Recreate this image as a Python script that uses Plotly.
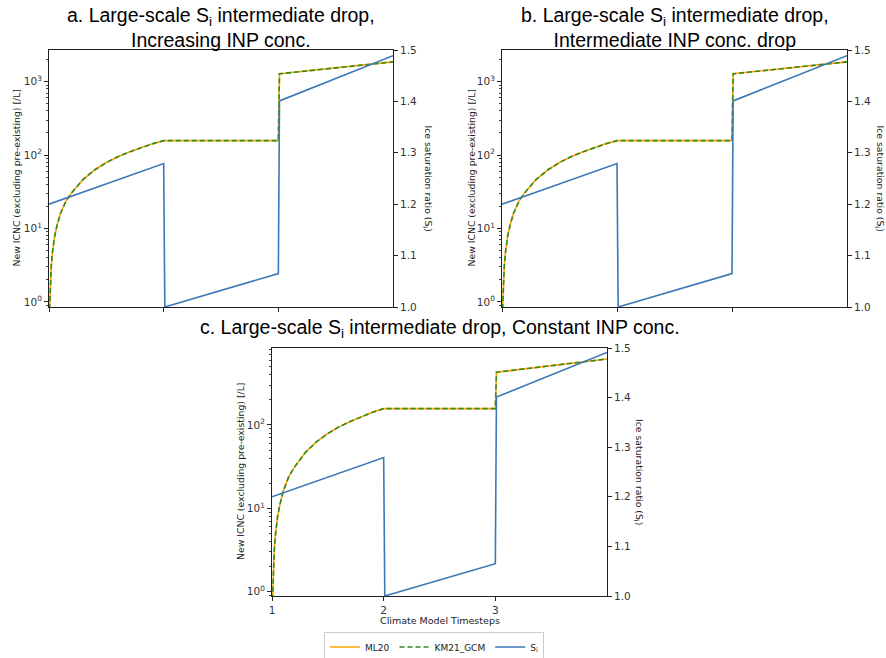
import plotly.graph_objects as go
import math

# ---------------- data ----------------
# sub-step positions along the climate-model timesteps for the ICNC curves
t_icnc = [1.005, 1.01, 1.02, 1.03, 1.05, 1.07, 1.10, 1.15, 1.20, 1.30, 1.40,
          1.50, 1.60, 1.70, 1.80, 1.90, 2.00, 3.00, 3.01, 4.00]
# panel a: Increasing INP conc.
ml20_a = [0.8, 1.6, 3.1, 4.7, 7.9, 11, 16, 24, 31, 47, 63, 79, 95, 110, 126, 142, 157, 157, 1280, 1860]
km21_a = [0.8, 1.6, 3.1, 4.7, 7.9, 11, 16, 24, 31, 47, 63, 79, 95, 110, 126, 142, 157, 157, 1280, 1860]
# panel b: Intermediate INP conc. drop
ml20_b = [0.8, 1.6, 3.1, 4.7, 7.9, 11, 16, 24, 31, 47, 63, 79, 95, 110, 126, 142, 157, 157, 1280, 1860]
km21_b = [0.8, 1.6, 3.1, 4.7, 7.9, 11, 16, 24, 31, 47, 63, 79, 95, 110, 126, 142, 157, 157, 1280, 1860]
# panel c: Constant INP conc.
ml20_c = [0.8, 1.6, 3.1, 4.7, 7.9, 11, 16, 24, 31, 47, 63, 79, 95, 110, 126, 142, 157, 157, 430, 620]
km21_c = [0.8, 1.6, 3.1, 4.7, 7.9, 11, 16, 24, 31, 47, 63, 79, 95, 110, 126, 142, 157, 157, 430, 620]

# ice saturation ratio S_i
t_si = [1.0, 2.0, 2.01, 3.0, 3.01, 4.0]
si_a = [1.200, 1.279, 1.000, 1.065, 1.401, 1.489]
si_b = [1.200, 1.279, 1.000, 1.065, 1.401, 1.489]
si_c = [1.200, 1.279, 1.000, 1.065, 1.401, 1.491]

x_ticks = [1, 2, 3]
icnc_ticks = [1, 10, 100, 1000]
icnc_ticktext = ["10<sup>0</sup>", "10<sup>1</sup>", "10<sup>2</sup>", "10<sup>3</sup>"]
si_ticks = [1.0, 1.1, 1.2, 1.3, 1.4, 1.5]

titles = [
    "a. Large-scale S<sub>i</sub> intermediate drop,<br>Increasing INP conc.",
    "b. Large-scale S<sub>i</sub> intermediate drop,<br>Intermediate INP conc. drop",
    "c. Large-scale S<sub>i</sub> intermediate drop, Constant INP conc.",
]
left_title = "New ICNC (excluding pre-existing) [/L]"
right_title = "Ice saturation ratio (S<sub>i</sub>)"
x_title = "Climate Model Timesteps"

# ---------------- layout constants ----------------
W, H = 886, 658
ORANGE = "#ffa500"
GREEN = "#2e8b22"
BLUE = "#3b78b8"
TICKFONT = dict(family="DejaVu Sans", size=10.5, color="#333")
LABFONT = dict(family="DejaVu Sans", size=9.3, color="#222")
TITLEFONT = dict(family="Liberation Sans, Arial", size=19.5, color="black")


def px(p):
    return p / W


def py(p):
    return 1 - p / H


# pixel boxes in screen coordinates (left, right, top, bottom)
boxes = [(49, 393, 50, 307), (502, 847, 50, 307), (272, 607, 348, 596)]
yranges = [(0.85, 2700), (0.85, 2700), (0.885, 840)]
panels = [(ml20_a, km21_a, si_a), (ml20_b, km21_b, si_b), (ml20_c, km21_c, si_c)]
left_title_x = [16, 471, 240]
right_title_x = [427, 879, 639]

minor_vals = [m * 10 ** e for e in range(-1, 4) for m in range(2, 10)]

fig = go.Figure()
layout = dict(width=W, height=H, margin=dict(l=0, r=0, t=0, b=0, autoexpand=False),
              plot_bgcolor="white", paper_bgcolor="white", showlegend=True)
annotations = []

for i, ((l, r, t, b), (ylo, yhi), (ml, km, si)) in enumerate(zip(boxes, yranges, panels)):
    xn = "x" if i == 0 else f"x{i+1}"
    yl = "y" if i == 0 else f"y{2*i+1}"
    yr = f"y{2*i+2}"
    xk = "xaxis" if i == 0 else f"xaxis{i+1}"
    ylk = "yaxis" if i == 0 else f"yaxis{2*i+1}"
    yrk = f"yaxis{2*i+2}"
    dom_x = [px(l), px(r)]
    dom_y = [py(b), py(t)]
    show = i == 0
    fig.add_trace(go.Scatter(x=t_icnc, y=ml, mode="lines", name="ML20",
                             line=dict(color=ORANGE, width=1.6), xaxis=xn, yaxis=yl,
                             showlegend=show, legendrank=1))
    fig.add_trace(go.Scatter(x=t_icnc, y=km, mode="lines", name="KM21_GCM",
                             line=dict(color=GREEN, width=1.6, dash="5px,3px"), xaxis=xn, yaxis=yl,
                             showlegend=show, legendrank=2))
    fig.add_trace(go.Scatter(x=t_si, y=si, mode="lines", name="S<sub>i</sub>",
                             line=dict(color=BLUE, width=1.6), xaxis=xn, yaxis=yr,
                             showlegend=show, legendrank=3))
    layout[xk] = dict(domain=dom_x, anchor=yl, range=[1, 4], tickvals=x_ticks, automargin=False,
                      showticklabels=(i == 2), ticks="outside", ticklen=4, tickcolor="#222",
                      showline=True, linecolor="#222", linewidth=1, mirror=True,
                      showgrid=False, zeroline=False, tickfont=TICKFONT)
    layout[ylk] = dict(domain=dom_y, anchor=xn, type="log", automargin=False,
                       range=[math.log10(ylo), math.log10(yhi)],
                       tickmode="array", tickvals=icnc_ticks, ticktext=icnc_ticktext,
                       ticks="outside", ticklen=4, tickcolor="#222",
                       minor=dict(tickmode="array", tickvals=minor_vals, ticks="outside",
                                  ticklen=2, tickcolor="#444", showgrid=False),
                       showline=True, linecolor="#222", linewidth=1, mirror=True,
                       showgrid=False, zeroline=False, tickfont=TICKFONT)
    layout[yrk] = dict(overlaying=yl, anchor=xn, side="right", range=[1.0, 1.5], automargin=False,
                       tickvals=si_ticks, tickformat=".1f", ticks="outside", ticklen=4,
                       tickcolor="#222", showline=True, linecolor="#222", linewidth=1,
                       showgrid=False, zeroline=False, tickfont=TICKFONT)
    # axis titles
    cy = py((t + b) / 2)
    annotations.append(dict(text=left_title, textangle=-90, x=px(left_title_x[i]), y=cy,
                            xref="paper", yref="paper", showarrow=False, font=LABFONT,
                            xanchor="center", yanchor="middle"))
    annotations.append(dict(text=right_title, textangle=90, x=px(right_title_x[i]), y=cy,
                            xref="paper", yref="paper", showarrow=False, font=LABFONT,
                            xanchor="center", yanchor="middle"))
    # panel titles
    if i < 2:
        annotations.append(dict(text=titles[i], x=px((l + r) / 2), y=py(28),
                                xref="paper", yref="paper", showarrow=False, font=TITLEFONT,
                                xanchor="center", yanchor="middle", align="center"))
    else:
        annotations.append(dict(text=titles[i], x=px((l + r) / 2), y=py(328),
                                xref="paper", yref="paper", showarrow=False, font=TITLEFONT,
                                xanchor="center", yanchor="middle"))
        annotations.append(dict(text=x_title, x=px((l + r) / 2), y=py(620),
                                xref="paper", yref="paper", showarrow=False,
                                font=dict(family="DejaVu Sans", size=9.5, color="#222"),
                                xanchor="center", yanchor="middle"))

layout["annotations"] = annotations
layout["legend"] = dict(orientation="h", x=px(434), xanchor="center", y=py(647), yanchor="middle",
                        bordercolor="#cccccc", borderwidth=1, bgcolor="white",
                        font=dict(family="DejaVu Sans", size=9, color="#222"),
                        itemwidth=30, traceorder="normal")
fig.update_layout(**layout)
fig.write_html("out.html", config={"displayModeBar": False},
               post_script="document.body.style.margin='0px';document.body.style.overflow='hidden';")
